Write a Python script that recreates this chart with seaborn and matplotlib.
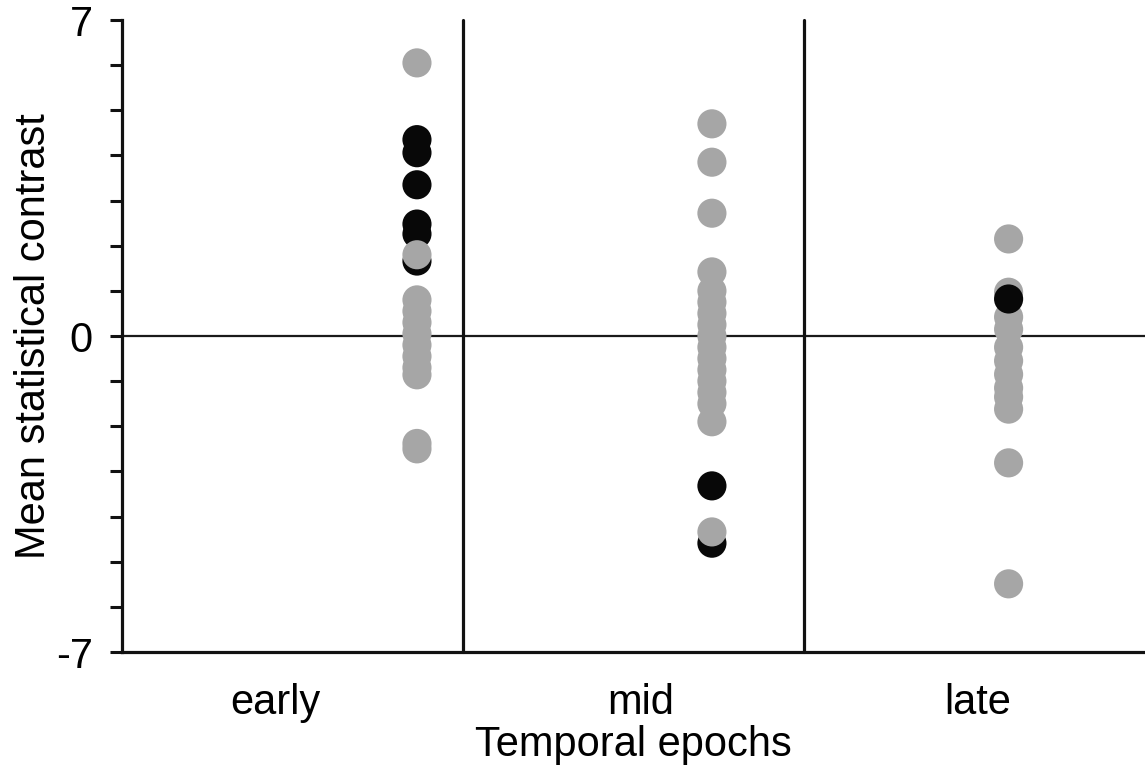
import matplotlib
matplotlib.use("Agg")
import matplotlib.pyplot as plt
import seaborn as sns
import pandas as pd

# ---- data ----
epochs = ["early", "mid", "late"]
early_gray = [6.05, 0.8, 0.55, 0.3, 0.05, -0.2, -0.45, -0.7, -0.86, -2.38, -2.5]
early_black = [4.35, 4.06, 3.35, 2.48, 2.26, 1.66]
early_gray_top = [1.8]
mid_gray = [4.70, 3.85, 2.72, 1.42, 1.0, 0.75, 0.5, 0.25, 0.0, -0.25, -0.5,
            -0.75, -1.0, -1.25, -1.5, -1.9]
mid_black = [-3.32, -4.59]
mid_gray_top = [-4.34]
late_gray = [2.15, 0.97, 0.42, 0.15, -0.25, -0.55, -0.85, -1.15, -1.35, -1.62,
             -2.81, -5.49]
late_black = [0.82]
y_ticklabels = {-7: "-7", 0: "0", 7: "7"}

# ---- layout ----
point_pos = {"early": 0.865, "mid": 1.73, "late": 2.6}
label_pos = [0.45, 1.52, 2.51]
separators = [1, 2]

rows = []
def add(epoch, vals, sig):
    for v in vals:
        rows.append({"epoch": epoch, "x": point_pos[epoch], "y": v, "sig": sig})

add("early", early_gray, "ns")
add("early", early_black, "sig")
add("early", early_gray_top, "ns")
add("mid", mid_gray, "ns")
add("mid", mid_black, "sig")
add("mid", mid_gray_top, "ns")
add("late", late_gray, "ns")
add("late", late_black, "sig")
df = pd.DataFrame(rows)

sns.set_style("white")
plt.rcParams["font.family"] = ["Liberation Sans", "DejaVu Sans"]
plt.rcParams["text.color"] = "#000000"
plt.rcParams["axes.labelcolor"] = "#000000"
plt.rcParams["xtick.color"] = "#000000"
plt.rcParams["ytick.color"] = "#000000"

fig = plt.figure(figsize=(11.45, 7.8), dpi=100)
ax = fig.add_axes([122 / 1145, (780 - 652) / 780, 1 - 122 / 1145, (652 - 20) / 780])

sns.scatterplot(data=df, x="x", y="y", hue="sig",
                palette={"ns": "#a6a6a6", "sig": "#080808"},
                s=440, linewidth=0, legend=False, ax=ax, zorder=3)

ax.set_xlim(0, 3)
ax.set_ylim(-7, 7)
ax.axhline(0, color="#1a1a1a", lw=1.6, zorder=2)
for s in separators:
    ax.axvline(s, color="#111111", lw=2.3, zorder=2, clip_on=False)

ax.set_yticks(range(-7, 8))
ax.set_yticklabels([y_ticklabels.get(t, "") for t in range(-7, 8)], fontsize=30)
ax.set_xticks(label_pos)
ax.set_xticklabels(epochs, fontsize=30)
ax.tick_params(axis="y", direction="out", length=9, width=2.2, color="#111111",
               labelcolor="#000000", pad=12, left=True)
ax.tick_params(axis="x", length=0, pad=22, labelcolor="#000000")

for side in ["top", "right"]:
    ax.spines[side].set_visible(False)
for side in ["left", "bottom"]:
    ax.spines[side].set_linewidth(2.3)
    ax.spines[side].set_color("#111111")

ax.set_xlabel("Temporal epochs", fontsize=30, labelpad=2, color="#000000")
ax.set_ylabel("Mean statistical contrast", fontsize=30, labelpad=1, color="#000000")

fig.savefig("out.png", dpi=100)
